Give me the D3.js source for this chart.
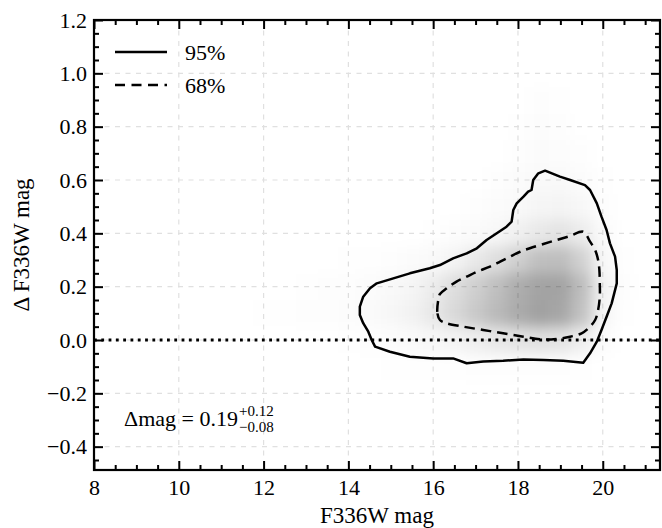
<!DOCTYPE html>
<html>
<head>
<meta charset="utf-8">
<script src="https://cdn.jsdelivr.net/npm/d3@7"></script>
<style>
  html, body { margin: 0; padding: 0; background: #fff; }
  svg { display: block; }
</style>
</head>
<body>
<svg id="chart" width="662" height="528"></svg>
<script>
// Axis extents and ticks
const xDomain = [8, 21.35];
const yDomain = [-0.4875, 1.2];
const xMajorTicks = [8, 10, 12, 14, 16, 18, 20];
const yMajorTicks = [-0.4, -0.2, 0.0, 0.2, 0.4, 0.6, 0.8, 1.0, 1.2];
const xMinorStep = 0.5;
const yMinorStep = 0.05;

// Point density of the sample (darkness per cell, cell centres below)
const densityX = [12, 12.5, 13, 13.5, 14, 14.5, 15, 15.5, 16, 16.5, 17, 17.5, 18, 18.5, 19, 19.5, 20, 20.5];
const densityY = [0.9, 0.8, 0.7, 0.6, 0.5, 0.4, 0.3, 0.2, 0.1, 0.0, -0.1];
const densityValues = [
  [0,     0,     0,     0,     0,     0,     0,     0,     0,     0,     0,     0,     0,     0.008, 0.004, 0,     0,     0],
  [0,     0,     0,     0,     0,     0,     0,     0,     0,     0,     0,     0,     0.004, 0.012, 0.006, 0,     0,     0],
  [0,     0,     0,     0,     0,     0,     0,     0,     0,     0,     0,     0,     0.008, 0.016, 0.012, 0.006, 0,     0],
  [0,     0,     0,     0,     0,     0,     0,     0,     0,     0,     0,     0.006, 0.014, 0.025, 0.025, 0.014, 0.004, 0],
  [0,     0,     0,     0,     0,     0,     0,     0,     0,     0,     0.006, 0.014, 0.025, 0.04,  0.045, 0.03,  0.008, 0],
  [0,     0,     0,     0,     0,     0,     0,     0,     0.004, 0.01,  0.018, 0.03,  0.06,  0.09,  0.11,  0.075, 0.02,  0],
  [0,     0,     0,     0,     0.002, 0.004, 0.008, 0.014, 0.025, 0.045, 0.085, 0.13,  0.19,  0.25,  0.26,  0.18,  0.03,  0.004],
  [0,     0,     0.004, 0.006, 0.008, 0.015, 0.025, 0.04,  0.075, 0.13,  0.19,  0.25,  0.32,  0.36,  0.36,  0.26,  0.05,  0.006],
  [0.002, 0.004, 0.006, 0.008, 0.012, 0.02,  0.03,  0.05,  0.09,  0.15,  0.21,  0.27,  0.33,  0.37,  0.35,  0.24,  0.04,  0.004],
  [0,     0,     0,     0,     0.004, 0.008, 0.012, 0.018, 0.03,  0.045, 0.065, 0.09,  0.11,  0.12,  0.11,  0.065, 0.015, 0],
  [0,     0,     0,     0,     0,     0,     0.003, 0.003, 0.004, 0.005, 0.006, 0.007, 0.008, 0.008, 0.008, 0.004, 0,     0]
];

// 95% contour (F336W mag, delta mag)
const contour95X = [14.27, 14.35, 14.47, 14.55, 14.63, 14.98, 15.45, 16.0, 16.47, 16.79, 17.18, 17.65, 18.13, 18.6, 19.07, 19.54,
  19.7, 19.86, 19.97, 20.09, 20.21, 20.33, 20.33, 20.29, 20.17, 20.09, 19.97, 19.86, 19.7, 19.58, 19.23, 18.99, 18.64,
  18.48, 18.36, 18.32, 18.24, 18.13, 17.97, 17.89, 17.85, 17.73, 17.5, 17.26, 17.03, 16.79, 16.47, 16.16, 15.92, 15.45,
  15.06, 14.67, 14.51, 14.35, 14.27];
const contour95Y = [0.094, 0.063, 0.031, 0.0, -0.025, -0.044, -0.063, -0.069, -0.069, -0.087, -0.081, -0.078, -0.073, -0.075, -0.078, -0.085,
  -0.05, -0.006, 0.0375, 0.087, 0.1375, 0.2125, 0.2625, 0.3125, 0.3625, 0.4125, 0.4625, 0.5125, 0.5625, 0.581, 0.6, 0.6125, 0.635,
  0.625, 0.6, 0.5625, 0.556, 0.5375, 0.5125, 0.4875, 0.444, 0.425, 0.4, 0.375, 0.344, 0.325, 0.306, 0.281, 0.269, 0.25,
  0.231, 0.2125, 0.194, 0.1625, 0.125];

// 68% contour
const contour68X = [16.12, 16.1, 16.16, 16.32, 16.71, 17.18, 17.65, 18.13, 18.52, 18.91, 19.23, 19.5, 19.66, 19.82, 19.89, 19.93,
  19.93, 19.92, 19.89, 19.82, 19.7, 19.54, 19.23, 18.91, 18.6, 18.28, 18.05, 17.81, 17.58, 17.34, 17.03, 16.79, 16.55, 16.32, 16.16];
const contour68Y = [0.15, 0.1, 0.075, 0.0625, 0.05, 0.0375, 0.025, 0.0125, 0.0025, 0.004, 0.0125, 0.025, 0.044, 0.075, 0.1125, 0.1625,
  0.2125, 0.2625, 0.3, 0.3375, 0.369, 0.406, 0.39, 0.375, 0.36, 0.344, 0.331, 0.3125, 0.294, 0.275, 0.256, 0.2375, 0.219, 0.194, 0.1725];

const legendLabels = ["95%", "68%"];
const medianValue = "0.19", upperErr = "+0.12", lowerErr = "\u22120.08";

// Layout
const FONT = '"Liberation Serif", "Times New Roman", serif';
const plot = { left: 94, right: 660, top: 20, bottom: 470 };
const svg = d3.select("#chart");
const x = d3.scaleLinear().domain(xDomain).range([plot.left, plot.right]);
const y = d3.scaleLinear().domain(yDomain).range([plot.bottom, plot.top]);
const fmtY = d => d3.format(".1f")(d).replace("-", "\u2212");

const defs = svg.append("defs");
defs.append("clipPath").attr("id", "plotClip")
  .append("rect").attr("x", plot.left).attr("y", plot.top)
  .attr("width", plot.right - plot.left).attr("height", plot.bottom - plot.top);
const blur = defs.append("filter").attr("id", "soft")
  .attr("x", "-20%").attr("y", "-20%").attr("width", "140%").attr("height", "140%");
blur.append("feGaussianBlur").attr("stdDeviation", 7);

// Grid
const grid = svg.append("g").attr("stroke", "#e0e0e0").attr("stroke-width", 1.2).attr("stroke-dasharray", "5 5.5");
grid.selectAll("line.v").data(xMajorTicks.filter(d => d > xDomain[0])).join("line")
  .attr("x1", d => x(d)).attr("x2", d => x(d)).attr("y1", plot.top).attr("y2", plot.bottom);
grid.selectAll("line.h").data(yMajorTicks.filter(d => d < yDomain[1])).join("line")
  .attr("y1", d => y(d)).attr("y2", d => y(d)).attr("x1", plot.left).attr("x2", plot.right);

// Density
const cells = [];
densityY.forEach((cy, i) => densityX.forEach((cx, j) => {
  if (densityValues[i][j] > 0) cells.push({ cx, cy, v: densityValues[i][j] });
}));
svg.append("g").attr("clip-path", "url(#plotClip)")
  .append("g").attr("filter", "url(#soft)")
  .selectAll("rect").data(cells).join("rect")
  .attr("x", d => x(d.cx - xMinorStep / 2)).attr("width", d => x(d.cx + xMinorStep / 2) - x(d.cx - xMinorStep / 2))
  .attr("y", d => y(d.cy + 0.05)).attr("height", d => y(d.cy - 0.05) - y(d.cy + 0.05))
  .attr("fill", "#000").attr("fill-opacity", d => d.v);

// Zero line
svg.append("line").attr("x1", plot.left).attr("x2", plot.right).attr("y1", y(0)).attr("y2", y(0))
  .attr("stroke", "#000").attr("stroke-width", 2.8).attr("stroke-dasharray", "2.8 4.5");

// Contours
const contour = d3.line().x(d => x(d[0])).y(d => y(d[1]));
svg.append("path").datum(d3.zip(contour95X, contour95Y))
  .attr("d", contour.curve(d3.curveLinearClosed))
  .attr("fill", "none").attr("stroke", "#000").attr("stroke-width", 2.5).attr("stroke-linejoin", "round");
svg.append("path").datum(d3.zip(contour68X, contour68Y))
  .attr("d", contour.curve(d3.curveCatmullRomClosed))
  .attr("fill", "none").attr("stroke", "#000").attr("stroke-width", 2.5).attr("stroke-dasharray", "10.5 6");

// Axes with inward ticks on all four sides
const xMinor = d3.range(xDomain[0], xDomain[1] + 1e-9, xMinorStep).filter(d => !xMajorTicks.includes(d));
const yMinor = d3.range(-0.45, yDomain[1] + 1e-9, yMinorStep).map(d => +d.toFixed(2))
  .filter(d => !yMajorTicks.some(t => Math.abs(t - d) < 1e-6));

function styleAxis(g) {
  g.select(".domain").remove();
  g.selectAll(".tick line").attr("stroke", "#000").attr("stroke-width", 2);
  g.selectAll(".tick text").attr("font-size", 22).style("font-family", FONT).attr("fill", "#000");
}
svg.append("g").attr("transform", `translate(0,${plot.bottom})`)
  .call(d3.axisBottom(x).tickValues(xMajorTicks).tickSizeInner(-9).tickSizeOuter(0).tickPadding(9).tickFormat(d3.format("d"))).call(styleAxis);
svg.append("g").attr("transform", `translate(0,${plot.bottom})`)
  .call(d3.axisBottom(x).tickValues(xMinor).tickSizeInner(-5).tickSizeOuter(0).tickFormat("")).call(styleAxis);
svg.append("g").attr("transform", `translate(0,${plot.top})`)
  .call(d3.axisTop(x).tickValues(xMajorTicks).tickSizeInner(-9).tickSizeOuter(0).tickFormat("")).call(styleAxis);
svg.append("g").attr("transform", `translate(0,${plot.top})`)
  .call(d3.axisTop(x).tickValues(xMinor).tickSizeInner(-5).tickSizeOuter(0).tickFormat("")).call(styleAxis);
svg.append("g").attr("transform", `translate(${plot.left},0)`)
  .call(d3.axisLeft(y).tickValues(yMajorTicks).tickSizeInner(-9).tickSizeOuter(0).tickPadding(7).tickFormat(fmtY)).call(styleAxis);
svg.append("g").attr("transform", `translate(${plot.left},0)`)
  .call(d3.axisLeft(y).tickValues(yMinor).tickSizeInner(-5).tickSizeOuter(0).tickFormat("")).call(styleAxis);
svg.append("g").attr("transform", `translate(${plot.right},0)`)
  .call(d3.axisRight(y).tickValues(yMajorTicks).tickSizeInner(-9).tickSizeOuter(0).tickFormat("")).call(styleAxis);
svg.append("g").attr("transform", `translate(${plot.right},0)`)
  .call(d3.axisRight(y).tickValues(yMinor).tickSizeInner(-5).tickSizeOuter(0).tickFormat("")).call(styleAxis);

// Frame
svg.append("rect").attr("x", plot.left).attr("y", plot.top)
  .attr("width", plot.right - plot.left).attr("height", plot.bottom - plot.top)
  .attr("fill", "none").attr("stroke", "#000").attr("stroke-width", 2.2);

// Axis titles
svg.append("text").attr("x", (plot.left + plot.right) / 2).attr("y", 523)
  .attr("text-anchor", "middle").attr("font-size", 23).style("font-family", FONT).text("F336W mag");
svg.append("text").attr("transform", `translate(29,${(plot.top + plot.bottom) / 2}) rotate(-90)`)
  .attr("text-anchor", "middle").attr("font-size", 23).style("font-family", FONT).text("\u0394 F336W mag");

// Legend
const legend = svg.append("g");
[0, 1].forEach(i => {
  const ly = 52 + i * 33;
  legend.append("line").attr("x1", 115).attr("x2", 167).attr("y1", ly).attr("y2", ly)
    .attr("stroke", "#000").attr("stroke-width", 2.5)
    .attr("stroke-dasharray", i === 1 ? "10 6.5" : null);
  legend.append("text").attr("x", 185).attr("y", ly + 7.5).attr("font-size", 22)
    .style("font-family", FONT).text(legendLabels[i]);
});

// Median offset annotation
const ann = svg.append("g");
const main = ann.append("text").attr("x", 124).attr("y", 426).attr("font-size", 22)
  .style("font-family", FONT).text(`\u0394mag = ${medianValue}`);
const mw = main.node().getComputedTextLength();
ann.append("text").attr("x", 124 + mw + 1).attr("y", 416).attr("font-size", 15)
  .style("font-family", FONT).text(upperErr);
ann.append("text").attr("x", 124 + mw + 1).attr("y", 432).attr("font-size", 15)
  .style("font-family", FONT).text(lowerErr);
</script>
</body>
</html>
